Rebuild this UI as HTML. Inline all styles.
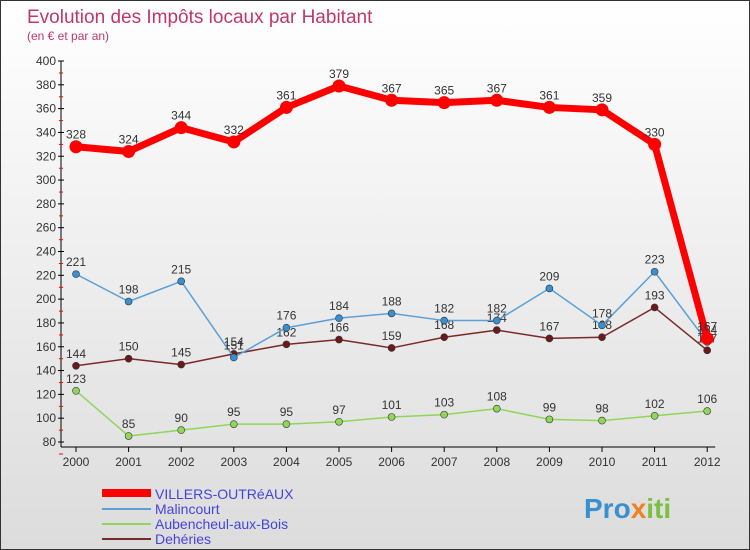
<!DOCTYPE html>
<html><head><meta charset="utf-8"><style>
body{margin:0}
#c{width:748px;height:548px;border:1px solid #333;background:linear-gradient(#fff,#dcdcdc);position:relative;overflow:hidden;font-family:"Liberation Sans",sans-serif}
</style></head><body>
<div id="c">
<svg id="s" width="748" height="548" xmlns="http://www.w3.org/2000/svg">
<text x="26" y="22" font-size="19" fill="#c0386a">Evolution des Impôts locaux par Habitant</text>
<text x="26" y="39" font-size="12" fill="#c0386a">(en € et par an)</text>
<g id="ax"></g><g id="series"></g>
<g>
<line x1="101" y1="492" x2="150" y2="492" stroke="#f00" stroke-width="8"/>
<text x="154" y="498" font-size="14" fill="#4444dd">VILLERS-OUTRéAUX</text>
<line x1="101" y1="508" x2="150" y2="508" stroke="#5aa0d6" stroke-width="2"/>
<text x="154" y="513" font-size="14" fill="#4444dd">Malincourt</text>
<line x1="101" y1="523" x2="150" y2="523" stroke="#8fd65a" stroke-width="2"/>
<text x="154" y="528" font-size="14" fill="#4444dd">Aubencheul-aux-Bois</text>
<line x1="101" y1="538" x2="150" y2="538" stroke="#7a2a2a" stroke-width="2"/>
<text x="154" y="543" font-size="14" fill="#4444dd">Dehéries</text>
</g>
<text x="583" y="517" font-size="28" font-weight="bold" fill="#3a8fd0">Pro<tspan fill="#f08020">x</tspan><tspan fill="#7cc040">iti</tspan></text>
</svg></div>
<script>
const years=[2000,2001,2002,2003,2004,2005,2006,2007,2008,2009,2010,2011,2012];
const villers=[328,324,344,332,361,379,367,365,367,361,359,330,167];
const malincourt=[221,198,215,151,176,184,188,182,182,209,178,223,164];
const aubencheul=[123,85,90,95,95,97,101,103,108,99,98,102,106];
const deheries=[144,150,145,154,162,166,159,168,174,167,168,193,157];
const yTicks=[80,100,120,140,160,180,200,220,240,260,280,300,320,340,360,380,400];
const NS="http://www.w3.org/2000/svg";
const X=i=>75+i*52.6, Y=v=>441-(v-80)*381/320;
function mk(p,t,a){const e=document.createElementNS(NS,t);for(const k in a)e.setAttribute(k,a[k]);p.appendChild(e);return e;}
const ax=document.getElementById('ax');
let l=mk(ax,'line',{x1:60,y1:Y(400),x2:60,y2:Y(80)+5,stroke:'#000'});


l=mk(ax,'line',{x1:60,y1:446,x2:X(12)+8,y2:446,stroke:'#000'});


yTicks.forEach(v=>{const y=Y(v);
mk(ax,'line',{x1:57,y1:y,x2:63,y2:y,stroke:'#000'});
mk(ax,'line',{x1:58,y1:y+12,x2:62,y2:y+12,stroke:'#f00'});
const t=mk(ax,'text',{x:55,y:y+4,'text-anchor':'end','font-size':12,fill:'#333'});t.textContent=v;

});
years.forEach((yr,i)=>{mk(ax,'line',{x1:X(i),y1:446,x2:X(i),y2:451,stroke:'#000'});
const t=mk(ax,'text',{x:X(i),y:465,'text-anchor':'middle','font-size':12,fill:'#333'});t.textContent=yr;

});
const g=document.getElementById('series');
function draw(data,name,color,w,r,dot){
const sg=mk(g,'g',{});


const pl=mk(sg,'polyline',{points:data.map((v,i)=>X(i)+','+Y(v)).join(' '),fill:'none',stroke:color,'stroke-width':w,'stroke-linejoin':'round'});


data.forEach((v,i)=>{const c=mk(sg,'circle',{cx:X(i),cy:Y(v),r:r,fill:dot,stroke:'#333','stroke-width':name==='villers'?0:0.6});


const t=mk(sg,'text',{x:X(i),y:Y(v)-8,'text-anchor':'middle','font-size':12,fill:'#333'});t.textContent=v;

});}
draw(aubencheul,'aubencheul','#8fd65a',1.5,3.5,'#8fd65a');
draw(deheries,'deheries','#7a2a2a',1.5,3.5,'#6a1a1a');
draw(malincourt,'malincourt','#5aa0d6',1.5,3.5,'#3a8fd0');
draw(villers,'villers','#f00',7,6.5,'#f00');
</script>
</body></html>
